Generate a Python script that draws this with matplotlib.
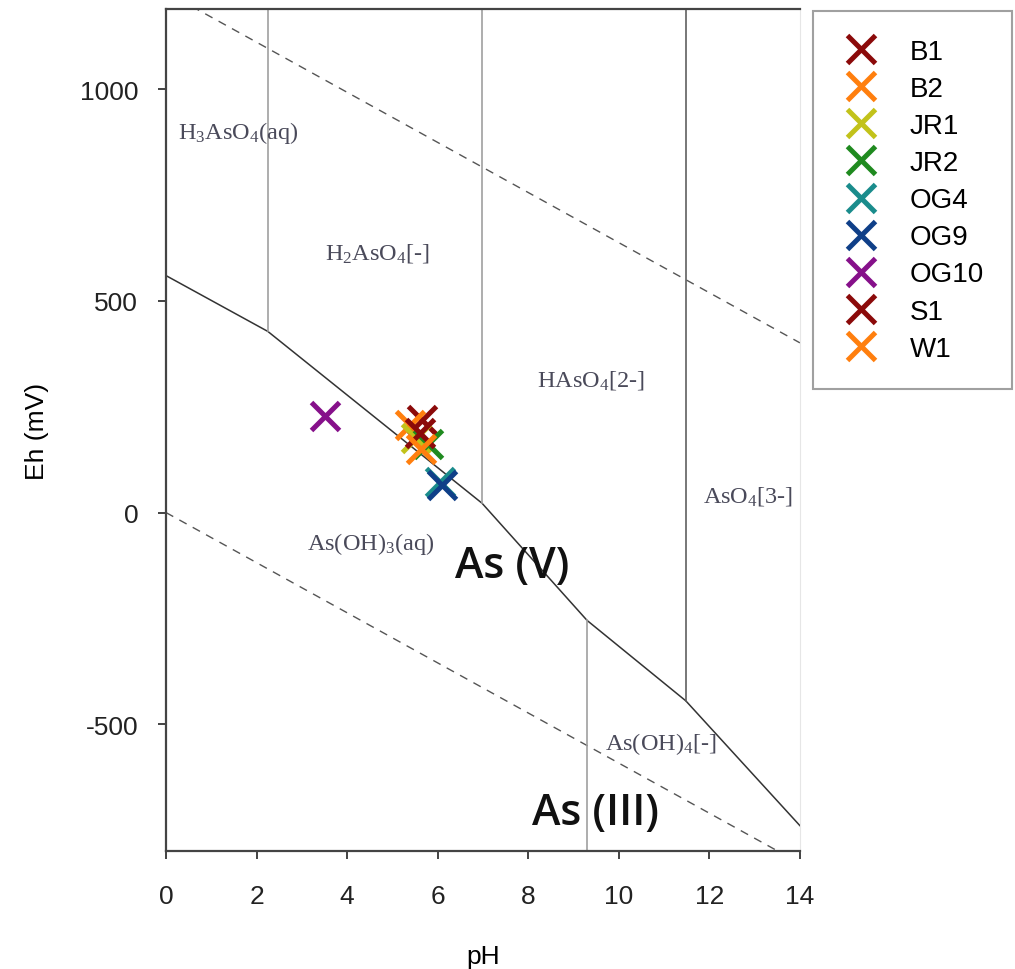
import numpy as np
import matplotlib
matplotlib.use("Agg")
import matplotlib.pyplot as plt
from matplotlib.lines import Line2D

plt.rcParams['font.family'] = ['Liberation Sans', 'DejaVu Sans']
plt.rcParams['axes.unicode_minus'] = False

# sample points (pH, Eh in mV)
samples = ['B1', 'B2', 'JR1', 'JR2', 'OG4', 'OG9', 'OG10', 'S1', 'W1']
sample_ph = [5.65, 5.39, 5.52, 5.78, 6.05, 6.09, 3.51, 5.61, 5.63]
sample_eh = [218, 206, 177, 163, 71, 66, 229, 187, 149]
sample_colors = ['#8b0a0a', '#ff7f0e', '#c2c21a', '#1f8a1f', '#1a8c8c',
                 '#0f3f88', '#86108a', '#8b0a0a', '#ff7f0e']

# As(V)/As(III) boundary vertices
redox_ph = [0.0, 2.25, 6.98, 9.30, 11.48, 14.0]
redox_eh = [560, 428, 22, -255, -445, -740]

# water stability lines
water_ph = [0.0, 14.0]
water_upper_eh = [1230, 401]
water_lower_eh = [0, -829]

# vertical species boundaries: (pH, Eh from, Eh to)
v_ph = [2.25, 6.98, 11.48]
v_lo = [428, 22, -445]
v_colors = ['#a0a0a0', '#a0a0a0', '#606060']
as3_ph = 9.30
as3_top = -255

ymin, ymax = -800, 1190

species = [r'$\mathregular{H_3AsO_4}$(aq)', r'$\mathregular{H_2AsO_4}$[-]',
           r'$\mathregular{HAsO_4}$[2-]', r'$\mathregular{AsO_4}$[3-]',
           r'$\mathregular{As(OH)_3}$(aq)', r'$\mathregular{As(OH)_4}$[-]']
species_x = [0.26, 3.51, 8.19, 11.86, 3.11, 9.69]
species_y = [899, 615, 315, 40, -71, -544]

fig = plt.figure(figsize=(10.15, 9.7), dpi=100)
ax = fig.add_axes([0.1635, 0.1216, 0.6246, 0.8681])

ax.plot(water_ph, water_upper_eh, color='#555555', lw=1.0, ls=(0, (6, 5)))
ax.plot(water_ph, water_lower_eh, color='#555555', lw=1.0, ls=(0, (6, 5)))
ax.plot(redox_ph, redox_eh, color='#333333', lw=1.1)
for x, lo, c in zip(v_ph, v_lo, v_colors):
    ax.plot([x, x], [lo, ymax], color=c, lw=1.2)
ax.plot([as3_ph, as3_ph], [ymin, as3_top], color='#a0a0a0', lw=1.2)

for x, y, s in zip(species_x, species_y, species):
    ax.text(x, y, s, family=['Liberation Serif', 'DejaVu Serif'], fontsize=17.5,
            color='#4a4a5a', ha='left', va='center')

ax.text(6.38, -125, 'As (V)', family=['Open Sans', 'DejaVu Sans'], fontsize=31,
        fontweight='semibold', color='#111111', ha='left', va='center')
ax.text(8.08, -710, 'As (III)', family=['Open Sans', 'DejaVu Sans'], fontsize=31,
        fontweight='semibold', color='#111111', ha='left', va='center')

for x, y, c in zip(sample_ph, sample_eh, sample_colors):
    ax.plot(x, y, marker='x', ms=20, mew=3.6, color=c, ls='none')

ax.set_xlim(0, 14)
ax.set_ylim(ymin, ymax)
ax.set_xticks([0, 2, 4, 6, 8, 10, 12, 14])
ax.set_yticks([-500, 0, 500, 1000])
ax.tick_params(axis='both', labelsize=19, colors='#222222', length=6,
               width=1.2)
ax.tick_params(axis='x', pad=18)
ax.tick_params(axis='y', pad=14)
for side in ['left', 'bottom', 'top']:
    ax.spines[side].set_color('#444444')
    ax.spines[side].set_linewidth(1.6)
ax.spines['right'].set_color('#e6e6e6')
ax.set_xlabel('pH', fontsize=19, labelpad=26)
ax.set_ylabel('Eh (mV)', fontsize=19, labelpad=22)

handles = [Line2D([], [], marker='x', ms=20, mew=3.6, color=c, ls='none')
           for c in sample_colors]
leg = fig.legend(handles, samples, loc='upper left',
                 bbox_to_anchor=(0.801, 0.9876), fontsize=20, frameon=True,
                 fancybox=False, edgecolor='#888888', labelspacing=0.4,
                 handletextpad=1.04, borderpad=1.0, handlelength=1.44,
                 borderaxespad=0)
leg.get_frame().set_linewidth(1.5)

fig.savefig('out.png', dpi=100)
